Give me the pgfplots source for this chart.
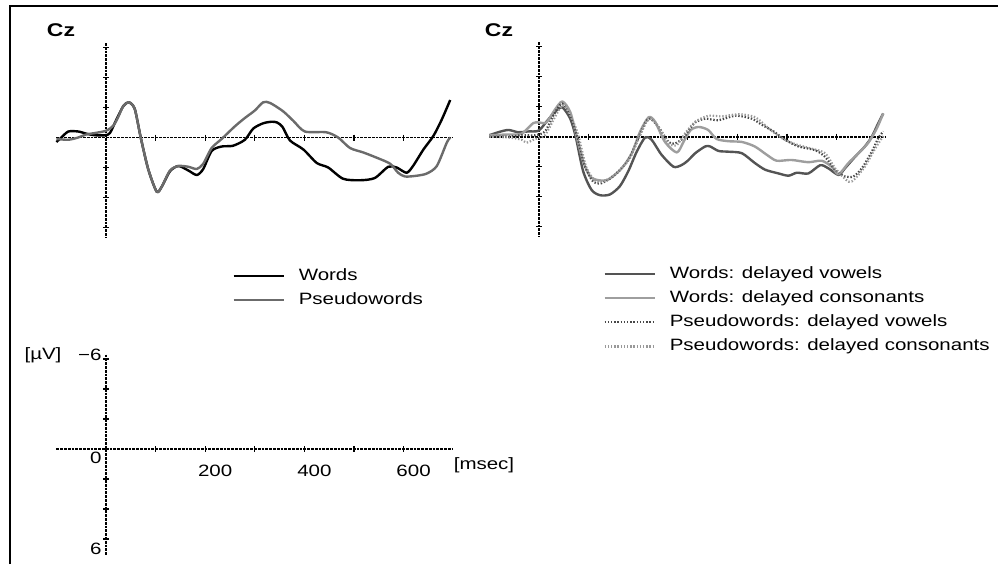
\documentclass[border=0pt]{standalone}
\usepackage{pgfplots}
\pgfplotsset{compat=1.18}
\usepackage{pgfplotstable}
\usepackage{fontspec}
\setmainfont{Liberation Sans}[FakeStretch=1.25]

\definecolor{cW}{gray}{0}
\definecolor{cPW}{gray}{0.42}
\definecolor{cWV}{gray}{0.33}
\definecolor{cWC}{gray}{0.62}
\definecolor{cPV}{gray}{0.28}
\definecolor{cPC}{gray}{0.6}

% left panel: Words
\pgfplotstableread{
t v
-100 0.3
-90 0.0
-76 -0.4
-56 -0.4
-39 -0.25
-22 -0.15
-2 -0.15
8 -0.3
21 -1.2
35 -2.1
46 -2.35
58 -1.9
70 0
85 2.1
102 3.6
112 3.3
129 2.25
146 1.9
166 2.2
183 2.5
196 2.1
213 0.9
233 0.6
256 0.55
280 0.15
297 -0.6
317 -0.95
334 -1.05
345 -1.0
356 -0.7
371 0.2
398 0.8
425 1.7
448 2.0
478 2.75
512 2.85
542 2.7
569 1.95
586 2.0
606 2.35
619 1.9
640 0.8
660 -0.1
677 -1.2
694 -2.5
}\tWords

% left panel: Pseudowords
\pgfplotstableread{
t v
-100 0.1
-76 0.15
-56 0.0
-40 -0.2
-22 -0.3
0 -0.45
15 -0.8
25 -1.4
35 -2.1
46 -2.35
58 -1.9
70 0
85 2.1
102 3.6
112 3.3
129 2.2
146 1.9
166 1.95
183 2.1
196 1.75
213 0.7
233 0.1
260 -0.75
280 -1.3
300 -1.8
317 -2.35
331 -2.3
357 -1.75
378 -1.1
401 -0.4
444 -0.35
468 0
492 0.7
519 1.0
546 1.35
573 1.75
589 2.35
603 2.6
626 2.55
647 2.4
667 1.9
687 0.35
694 0
}\tPseudo

% right panel: Words, delayed vowels
\pgfplotstableread{
t v
-100 -0.1
-82 -0.3
-62 -0.45
-42 -0.3
-22 -0.35
-1 -0.4
15 -1.0
32 -1.65
47 -1.95
63 -1.2
74 0
89 2.3
106 3.55
123 3.9
143 3.85
163 3.3
180 2.3
197 1.0
214 0.05
227 0.2
247 1.2
271 2.0
287 1.9
300 1.6
315 1.1
335 0.65
345 0.65
362 0.95
382 1.0
409 1.1
435 1.75
456 2.2
483 2.45
503 2.6
520 2.4
543 2.45
567 1.9
583 2.1
604 2.55
617 2.1
637 1.35
657 0.65
671 0
684 -0.9
694 -1.55
}\tWV

% right panel: Words, delayed consonants
\pgfplotstableread{
t v
-100 -0.1
-62 -0.15
-35 -0.2
-12 -0.9
-1 -0.95
15 -0.95
32 -1.8
47 -2.35
63 -1.65
76 0
89 1.65
103 2.65
120 2.9
140 2.85
167 2.1
187 1.1
204 -0.35
221 -1.3
234 -1.0
254 0.35
278 1.05
292 0.3
306 -0.45
322 -0.65
341 -0.45
358 0.15
382 0.3
409 0.35
435 0.65
459 1.2
479 1.6
509 1.55
543 1.7
570 1.6
590 2.0
604 2.5
624 1.75
644 1.1
664 0.4
681 -0.55
694 -1.55
}\tWC

% right panel: Pseudowords, delayed vowels
\pgfplotstableread{
t v
-100 0
-62 0
-35 -0.1
-8 -0.1
12 -0.35
32 -1.6
47 -2.2
65 -1.2
77 0
92 1.9
109 3.0
126 3.1
153 2.55
180 1.55
197 0.35
214 -0.9
224 -1.2
241 -0.65
261 0.35
274 0.45
291 0.1
300 -0.35
315 -0.95
335 -1.2
362 -1.1
396 -1.4
429 -1.2
449 -0.8
473 -0.35
496 0.2
523 0.65
557 0.9
577 1.35
597 2.2
617 2.65
634 2.65
651 2.1
671 1.0
684 0.1
694 -0.35
}\tPV

% right panel: Pseudowords, delayed consonants
\pgfplotstableread{
t v
-100 0
-62 0.05
-35 0.2
-25 0.4
-8 0.15
12 -0.1
32 -1.3
49 -2.1
69 -1.0
80 0
95 2.0
112 2.9
129 3.0
156 2.45
183 1.45
200 0.2
217 -1.0
228 -1.2
243 -0.55
261 0.45
278 0.55
294 -0.2
315 -1.0
342 -1.4
369 -1.35
402 -1.5
436 -1.3
463 -0.55
490 0.1
517 0.5
550 0.8
577 1.1
597 2.1
624 3.0
637 2.8
657 2.0
674 1.0
691 0.1
697 -0.1
}\tPC

\pgfplotsset{
  erp/.style={
    scale only axis, width=198.4pt, height=97.5pt,
    xmin=-100, xmax=700, ymin=-6.3, ymax=6.7,
    y dir=reverse, axis lines=middle, enlargelimits=false,
    axis line style={-, black, line width=0.95pt, dash pattern=on 1.4pt off 0.5pt},
    xtick={100,200,...,600}, ytick={-6,-4,-2,2,4,6},
    xticklabels={}, yticklabels={},
    major tick length=3pt, tick style={black, line width=0.6pt},
    clip=false, anchor=center,
    font=\fontsize{8.2}{9.8}\selectfont,
    legend cell align=left,
    legend image code/.code={\draw[#1] (0pt,0pt) -- (25pt,0pt);},
    legend style={draw=none, fill=none, anchor=north west, inner sep=0pt,
      font=\fontsize{8.2}{9.8}\selectfont, row sep=2.1pt,
      nodes={inner sep=1pt, text height=6.2pt, text depth=1.8pt},
      /tikz/every odd column/.append style={column sep=6pt}},
  },
  curve/.style={line width=1.2pt, line join=round, smooth, tension=0.45},
  dcurve/.style={line width=1.1pt, dash pattern=on 0.7pt off 0.9pt, smooth, tension=0.45},
}

\begin{document}
\begin{tikzpicture}[font=\fontsize{8.2}{9.8}\selectfont]
\path[use as bounding box] (0,0) rectangle (499pt,282pt);
\draw[line width=1.25pt] (5pt,0pt) -- (5pt,279pt) -- (499pt,279pt);

\node[font=\fontsize{9.2}{10}\selectfont\bfseries] at (30.5pt,267pt) {Cz};
\node[font=\fontsize{9.2}{10}\selectfont\bfseries] at (249.5pt,267pt) {Cz};

% left panel
\begin{axis}[erp, at={(127.4pt,211.75pt)},
  legend style={at={(axis description cs:0.4425,-0.14)}}]
\addplot[curve, color=cW] table[x=t, y=v] {\tWords};
\addlegendentry{Words}
\addplot[curve, color=cPW] table[x=t, y=v] {\tPseudo};
\addlegendentry{Pseudowords}
\end{axis}

% right panel
\begin{axis}[erp, at={(343.9pt,212.15pt)},
  legend style={at={(axis description cs:0.2863,-0.135)}}]
\addplot[curve, color=cWV] table[x=t, y=v] {\tWV};
\addlegendentry{Words: delayed vowels}
\addplot[curve, color=cWC] table[x=t, y=v] {\tWC};
\addlegendentry{Words: delayed consonants}
\addplot[dcurve, color=cPV] table[x=t, y=v] {\tPV};
\addlegendentry{Pseudowords: delayed vowels}
\addplot[dcurve, color=cPC] table[x=t, y=v] {\tPC};
\addlegendentry{Pseudowords: delayed consonants}
\end{axis}

% scale axis
\begin{axis}[erp, at={(127.4pt,54.5pt)}, height=100.5pt, ymin=-6.3, ymax=7.1,
  ytick={-6,-4,-2,0,2,4,6},
  yticklabels={\smash{\raisebox{-0.95pt}{−6}},,,\smash{\raisebox{-7.2pt}{0}},,,\smash{\raisebox{-7.7pt}{6}}},
  xticklabels={,200,,400,,600},
  hide obscured y ticks=false, hide obscured x ticks=false,
  xticklabel style={xshift=5pt, yshift=-3pt},
  yticklabel style={xshift=2.8pt}]
\end{axis}
\node at (242pt,49.5pt) {[msec]};
\node at (21.5pt,104.5pt) {[µV]};
\end{tikzpicture}
\end{document}
